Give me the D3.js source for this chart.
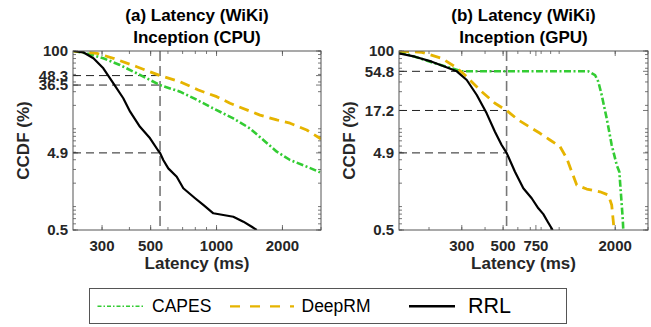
<!DOCTYPE html>
<html>
<head>
<meta charset="utf-8">
<script src="https://cdn.jsdelivr.net/npm/d3@7"></script>
<style>
  html, body { margin: 0; padding: 0; background: #fff; }
  svg { display: block; font-family: "Liberation Sans", Arial, Helvetica, sans-serif; }
</style>
</head>
<body>
<svg id="chart" width="651" height="327"></svg>
<script>
// ---------------- DATA ----------------
const seriesNames = ["CAPES", "DeepRM", "RRL"];

// Panel (a): Inception (CPU)
const cpuCapesLatency = [222, 255, 304, 362, 432, 552, 681, 798, 934, 1193, 1422, 1636, 1884, 2167, 2582, 2970];
const cpuCapesCcdf    = [100, 93.4, 80.6, 66.1, 51.7, 36.5, 30.0, 24.2, 19.2, 13.6, 10.1, 7.18, 5.08, 3.97, 3.26, 2.76];
const cpuDeepLatency  = [222, 284, 338, 432, 552, 681, 826, 1002, 1152, 1580, 1884, 2167, 2582, 3000];
const cpuDeepCcdf     = [100, 93.4, 80.6, 62.8, 48.3, 40.3, 31.5, 25.9, 21.3, 15.0, 13.0, 11.8, 9.65, 7.39];
const cpuRrlLatency   = [222, 246, 274, 304, 338, 375, 403, 447, 497, 540, 552, 571, 602, 658, 705, 757, 798, 870, 967, 1074, 1193, 1326, 1448, 1526];
const cpuRrlCcdf      = [100, 96.2, 80.6, 59.9, 38.4, 24.7, 16.6, 10.6, 7.55, 5.3, 4.9, 3.97, 3.10, 2.42, 1.72, 1.45, 1.28, 1.05, 0.82, 0.78, 0.74, 0.64, 0.55, 0.5];

// Panel (b): Inception (GPU)
const gpuCapesLatency = [138, 168, 215, 265, 300, 1434, 1558, 1623, 1692, 1800, 1915, 2038, 2104, 2149, 2194, 2210];
const gpuCapesCcdf    = [97.9, 84.5, 69.5, 59.9, 54.8, 54.8, 49.1, 40.3, 27.2, 13.6, 6.19, 3.42, 2.81, 1.41, 0.707, 0.5];
const gpuDeepLatency  = [138, 183, 234, 276, 312, 384, 452, 522, 603, 789, 893, 1011, 1098, 1168, 1243, 1406, 1658, 1837, 1915, 1954, 1971];
const gpuDeepCcdf     = [100, 96.2, 80.6, 62.8, 49.1, 30.0, 21.3, 17.2, 13.0, 8.75, 7.18, 5.89, 4.18, 2.81, 1.89, 1.68, 1.55, 1.41, 1.05, 0.64, 0.5];
const gpuRrlLatency   = [138, 168, 207, 244, 282, 319, 361, 408, 452, 491, 522, 579, 642, 712, 773, 822, 871, 923];
const gpuRrlCcdf      = [93.4, 84.5, 72.9, 62.8, 54.8, 42.4, 27.2, 15.8, 9.18, 6.19, 4.9, 2.81, 1.72, 1.28, 0.95, 0.80, 0.63, 0.5];

// Axes / ticks
const cpuXDomain = [221, 3000];
const gpuXDomain = [138, 3000];
const yDomain = [0.5, 100];
const cpuXTicks = [300, 500, 1000, 2000];
const gpuXTicks = [300, 500, 750, 2000];
const cpuYTicks = [0.5, 4.9, 36.5, 48.3, 100];
const gpuYTicks = [0.5, 4.9, 17.2, 54.8, 100];
const cpuMarkLatency = 552;
const gpuMarkLatency = 522;
const cpuMarkCcdf = [48.3, 36.5, 4.9];
const gpuMarkCcdf = [54.8, 17.2, 4.9];
const titlesA = ["(a) Latency (WiKi)", "Inception (CPU)"];
const titlesB = ["(b) Latency (WiKi)", "Inception (GPU)"];
const xLabel = "Latency (ms)";
const yLabel = "CCDF (%)";

// ---------------- STYLE ----------------
const colors = { CAPES: "#33cc33", DeepRM: "#e6b400", RRL: "#000000" };
const styles = {
  CAPES:  { width: 2.6, dash: "7,2.5,2,2.5" },
  DeepRM: { width: 2.8, dash: "10,6" },
  RRL:    { width: 2.2, dash: null }
};

const svg = d3.select("#chart");
const zip = (a, b) => a.map((v, i) => [v, b[i]]);

function minorLogTicks(lo, hi) {
  const out = [];
  for (let e = Math.floor(Math.log10(lo)); e <= Math.ceil(Math.log10(hi)); e++) {
    for (let m = 1; m < 10; m++) {
      const v = m * Math.pow(10, e);
      if (v >= lo * 0.999 && v <= hi * 1.001) out.push(v);
    }
  }
  return out;
}

function drawPanel(cfg) {
  const { left, right, top, bottom } = cfg.box;
  const x = d3.scaleLog().domain(cfg.xDomain).range([left, right]);
  const y = d3.scaleLog().domain(yDomain).range([bottom, top]);
  const g = svg.append("g");

  const clipId = "clip" + cfg.id;
  svg.append("defs").append("clipPath").attr("id", clipId)
    .append("rect").attr("x", left).attr("y", top).attr("width", right - left).attr("height", bottom - top);

  // minor + major ticks (inward, all four sides)
  const tickColor = "#555";
  const xMinor = minorLogTicks(cfg.xDomain[0], cfg.xDomain[1]);
  const yMinor = minorLogTicks(yDomain[0], yDomain[1]);
  xMinor.forEach(v => {
    g.append("line").attr("x1", x(v)).attr("x2", x(v)).attr("y1", bottom).attr("y2", bottom - 3).attr("stroke", tickColor).attr("stroke-width", 0.8);
    g.append("line").attr("x1", x(v)).attr("x2", x(v)).attr("y1", top).attr("y2", top + 3).attr("stroke", tickColor).attr("stroke-width", 0.8);
  });
  cfg.xTicks.forEach(v => {
    g.append("line").attr("x1", x(v)).attr("x2", x(v)).attr("y1", bottom).attr("y2", bottom - 5).attr("stroke", tickColor).attr("stroke-width", 0.8);
    g.append("line").attr("x1", x(v)).attr("x2", x(v)).attr("y1", top).attr("y2", top + 5).attr("stroke", tickColor).attr("stroke-width", 0.8);
  });
  yMinor.forEach(v => {
    g.append("line").attr("y1", y(v)).attr("y2", y(v)).attr("x1", left).attr("x2", left + 3).attr("stroke", tickColor).attr("stroke-width", 0.8);
    g.append("line").attr("y1", y(v)).attr("y2", y(v)).attr("x1", right).attr("x2", right - 3).attr("stroke", tickColor).attr("stroke-width", 0.8);
  });
  cfg.yTicks.forEach(v => {
    g.append("line").attr("y1", y(v)).attr("y2", y(v)).attr("x1", left).attr("x2", left + 5).attr("stroke", tickColor).attr("stroke-width", 0.8);
    g.append("line").attr("y1", y(v)).attr("y2", y(v)).attr("x1", right).attr("x2", right - 5).attr("stroke", tickColor).attr("stroke-width", 0.8);
  });

  // reference dashed lines
  const xm = x(cfg.markLatency);
  cfg.markCcdf.forEach(v => {
    g.append("line").attr("x1", left).attr("x2", xm).attr("y1", y(v)).attr("y2", y(v))
      .attr("stroke", "#222").attr("stroke-width", 1).attr("stroke-dasharray", "8,5");
  });
  g.append("line").attr("x1", xm).attr("x2", xm).attr("y1", top).attr("y2", bottom)
    .attr("stroke", "#777").attr("stroke-width", 1.6).attr("stroke-dasharray", "10,5");

  // series
  const line = d3.line().x(d => x(d[0])).y(d => y(d[1]));
  const data = cfg.series;
  seriesNames.forEach(name => {
    const p = g.append("path").datum(data[name]).attr("d", line)
      .attr("fill", "none").attr("stroke", colors[name]).attr("stroke-width", styles[name].width)
      .attr("stroke-linejoin", "round")
      .attr("clip-path", `url(#${clipId})`);
    if (styles[name].dash) p.attr("stroke-dasharray", styles[name].dash);
  });

  // frame
  g.append("rect").attr("x", left).attr("y", top).attr("width", right - left).attr("height", bottom - top)
    .attr("fill", "none").attr("stroke", "#555").attr("stroke-width", 1);

  // tick labels
  g.selectAll(".xt").data(cfg.xTicks).enter().append("text")
    .attr("x", d => x(d)).attr("y", bottom + 21).attr("text-anchor", "middle")
    .attr("font-size", 15).attr("font-weight", "bold").attr("fill", "#262626").text(d => d);
  g.selectAll(".yt").data(cfg.yTicks).enter().append("text")
    .attr("x", left - 5).attr("y", d => y(d)).attr("dy", "0.36em").attr("text-anchor", "end")
    .attr("font-size", 15).attr("font-weight", "bold").attr("fill", "#262626").text(d => d);

  // axis labels
  const cx = (left + right) / 2;
  g.append("text").attr("x", cx).attr("y", 269).attr("text-anchor", "middle")
    .attr("font-size", 17).attr("font-weight", "bold").attr("fill", "#262626").text(xLabel);
  g.append("text").attr("transform", `translate(${left - 44},${(top + bottom) / 2}) rotate(-90)`)
    .attr("text-anchor", "middle").attr("font-size", 17).attr("font-weight", "bold").attr("fill", "#262626").text(yLabel);

  // titles
  g.append("text").attr("x", cx).attr("y", 20.5).attr("text-anchor", "middle")
    .attr("font-size", 17).attr("font-weight", "bold").attr("fill", "#000").text(cfg.titles[0]);
  g.append("text").attr("x", cx).attr("y", 43).attr("text-anchor", "middle")
    .attr("font-size", 17).attr("font-weight", "bold").attr("fill", "#000").text(cfg.titles[1]);
}

drawPanel({
  id: "a", box: { left: 73, right: 321, top: 51, bottom: 230 },
  xDomain: cpuXDomain, xTicks: cpuXTicks, yTicks: cpuYTicks,
  markLatency: cpuMarkLatency, markCcdf: cpuMarkCcdf, titles: titlesA,
  series: {
    CAPES: zip(cpuCapesLatency, cpuCapesCcdf),
    DeepRM: zip(cpuDeepLatency, cpuDeepCcdf),
    RRL: zip(cpuRrlLatency, cpuRrlCcdf)
  }
});
drawPanel({
  id: "b", box: { left: 399, right: 648, top: 51, bottom: 230 },
  xDomain: gpuXDomain, xTicks: gpuXTicks, yTicks: gpuYTicks,
  markLatency: gpuMarkLatency, markCcdf: gpuMarkCcdf, titles: titlesB,
  series: {
    CAPES: zip(gpuCapesLatency, gpuCapesCcdf),
    DeepRM: zip(gpuDeepLatency, gpuDeepCcdf),
    RRL: zip(gpuRrlLatency, gpuRrlCcdf)
  }
});

// legend
const leg = svg.append("g");
leg.append("rect").attr("x", 89.5).attr("y", 288.5).attr("width", 477).attr("height", 35)
  .attr("fill", "#fff").attr("stroke", "#555").attr("stroke-width", 1);
const legendItems = [
  { name: "CAPES",  x1: 97.5, x2: 144, tx: 152, size: 17.5, width: 1.6, dash: "4,2,1.5,2" },
  { name: "DeepRM", x1: 230,  x2: 294, tx: 301.5, size: 17.5, width: 2.2, dash: "10,10" },
  { name: "RRL",    x1: 409,  x2: 455, tx: 468, size: 21.5, width: 2.6, dash: null }
];
legendItems.forEach(it => {
  const l = leg.append("line").attr("x1", it.x1).attr("x2", it.x2).attr("y1", 306.3).attr("y2", 306.3)
    .attr("stroke", colors[it.name]).attr("stroke-width", it.width);
  if (it.dash) l.attr("stroke-dasharray", it.dash);
  leg.append("text").attr("x", it.tx).attr("y", it.name === "RRL" ? 313.3 : 312.3)
    .attr("font-size", it.size).attr("fill", "#000").text(it.name);
});
</script>
</body>
</html>
